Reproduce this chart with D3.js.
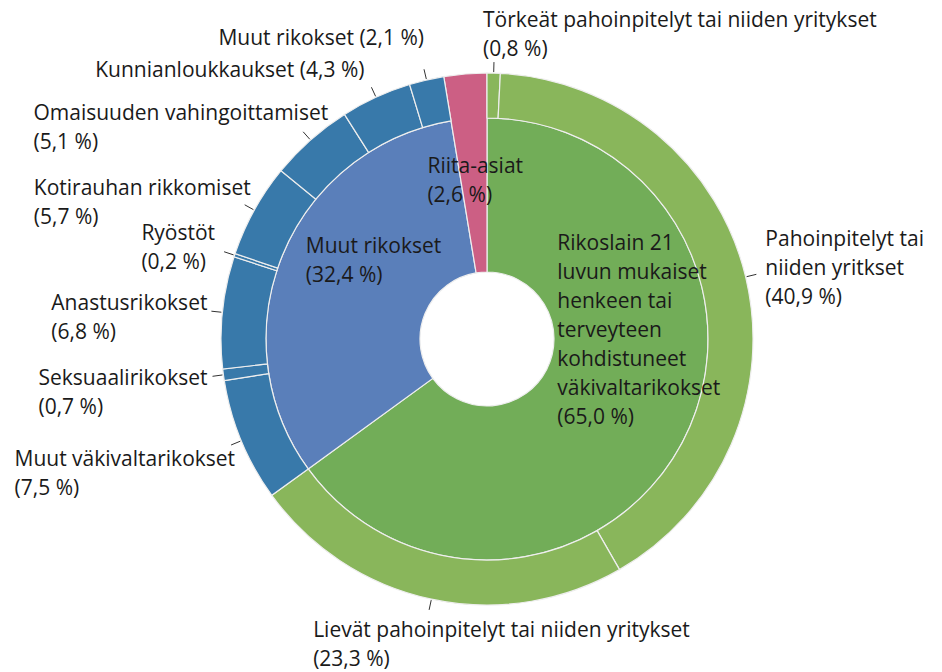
<!DOCTYPE html>
<html>
<head>
<meta charset="utf-8">
<script src="https://cdn.jsdelivr.net/npm/d3@7"></script>
<style>
  html, body { margin: 0; padding: 0; background: #fff; }
  svg { display: block; }
  text { font-family: "Open Sans", "Noto Sans", sans-serif; fill: #1a1a1a; }
</style>
</head>
<body>
<svg id="chart" width="942" height="672"></svg>
<script>
// ---- data ----
const categories = ["Rikoslain 21 luvun mukaiset henkeen tai terveyteen kohdistuneet väkivaltarikokset", "Muut rikokset", "Riita-asiat"];
const categoryValues = [65.0, 32.4, 2.6];
const categoryLabelLines = [
  ["Rikoslain 21", "luvun mukaiset", "henkeen tai", "terveyteen", "kohdistuneet", "väkivaltarikokset", "(65,0 %)"],
  ["Muut rikokset", "(32,4 %)"],
  ["Riita-asiat", "(2,6 %)"]
];
const subcategories = [
  "Törkeät pahoinpitelyt tai niiden yritykset",
  "Pahoinpitelyt tai niiden yritkset",
  "Lievät pahoinpitelyt tai niiden yritykset",
  "Muut väkivaltarikokset",
  "Seksuaalirikokset",
  "Anastusrikokset",
  "Ryöstöt",
  "Kotirauhan rikkomiset",
  "Omaisuuden vahingoittamiset",
  "Kunnianloukkaukset",
  "Muut rikokset"
];
const subParents = [0, 0, 0, 1, 1, 1, 1, 1, 1, 1, 1];
const subValues = [0.8, 40.9, 23.3, 7.5, 0.7, 6.8, 0.2, 5.7, 5.1, 4.3, 2.1];
const subLabelLines = [
  ["Törkeät pahoinpitelyt tai niiden yritykset", "(0,8 %)"],
  ["Pahoinpitelyt tai", "niiden yritkset", "(40,9 %)"],
  ["Lievät pahoinpitelyt tai niiden yritykset", "(23,3 %)"],
  ["Muut väkivaltarikokset", "(7,5 %)"],
  ["Seksuaalirikokset", "(0,7 %)"],
  ["Anastusrikokset", "(6,8 %)"],
  ["Ryöstöt", "(0,2 %)"],
  ["Kotirauhan rikkomiset", "(5,7 %)"],
  ["Omaisuuden vahingoittamiset", "(5,1 %)"],
  ["Kunnianloukkaukset (4,3 %)"],
  ["Muut rikokset (2,1 %)"]
];

// ---- layout / style ----
const cx = 487, cy = 339;
const rHole = 67, rMid = 221, rOuter = 266, rTick = 277;
const fontSize = 21, lineH = 29;
const innerColors = ["#72ad58", "#5a7fba", "#cc5f84"];
const outerColors = ["#89b65b", "#89b65b", "#89b65b", "#3879aa", "#3879aa", "#3879aa", "#3879aa", "#3879aa", "#3879aa", "#3879aa", "#3879aa"];
// label placement: ax = fraction of box width placed left of anchor, dx/dy offset of first baseline from tick end
const subLabelPlace = [
  {ax: 0, dx: -11, dy: -35},
  {ax: 0, dx: 9, dy: -28},
  {ax: 0, dx: -116, dy: 27},
  {ax: 1, dx: 4, dy: 21},
  {ax: 1, dx: -5, dy: 9},
  {ax: 1, dx: -4, dy: -1},
  {ax: 1, dx: -9, dy: -12},
  {ax: 1, dx: 6, dy: -10},
  {ax: 1, dx: 25, dy: -12},
  {ax: 1, dx: -7, dy: -10},
  {ax: 1, dx: 0, dy: -24}
];
const catLabelPlace = [
  {dx: -58, dy: -154},
  {dx: -48, dy: -31},
  {dx: -46, dy: 0}
];

// ---- hierarchy ----
const rootData = {
  name: "root",
  children: categories.map((c, i) => {
    const kids = subcategories.map((s, j) => ({name: s, value: subValues[j], idx: j, parent: subParents[j]}))
      .filter(k => k.parent === i);
    const node = {name: c, idx: i};
    if (kids.length) node.children = kids; else node.value = categoryValues[i];
    return node;
  })
};
const root = d3.hierarchy(rootData).sum(d => d.children ? 0 : d.value);
d3.partition().size([2 * Math.PI, 2])(root);

const radius = d3.scaleOrdinal().domain([1, 2]).range([[rHole, rMid], [rMid, rOuter]]);

const arc = d3.arc()
  .startAngle(d => d.x0)
  .endAngle(d => d.x1)
  .innerRadius(d => radius(d.depth)[0])
  .outerRadius(d => (d.depth === 1 && !d.children) ? rOuter : radius(d.depth)[1]);

const svg = d3.select("#chart");
const g = svg.append("g").attr("transform", `translate(${cx},${cy})`);

const nodes = root.descendants().filter(d => d.depth > 0);
g.selectAll("path.seg")
  .data(nodes)
  .join("path")
  .attr("class", "seg")
  .attr("d", arc)
  .attr("fill", d => d.depth === 1 ? innerColors[d.data.idx] : outerColors[d.data.idx])
  .attr("stroke", "#eeeeee")
  .attr("stroke-width", 1.2);

const polar = (a, r) => [r * Math.sin(a), -r * Math.cos(a)];

// outer labels
const leaves2 = nodes.filter(d => d.depth === 2);
leaves2.forEach(d => {
  const i = d.data.idx;
  const a = (d.x0 + d.x1) / 2;
  const p0 = polar(a, rOuter + 1), p1 = polar(a, rTick);
  g.append("line")
    .attr("x1", p0[0]).attr("y1", p0[1]).attr("x2", p1[0]).attr("y2", p1[1])
    .attr("stroke", "#333").attr("stroke-width", 1);
  const t = g.append("text").attr("font-size", fontSize);
  subLabelLines[i].forEach((ln, k) => {
    t.append("tspan").attr("dy", k === 0 ? 0 : lineH).attr("x", 0).text(ln);
  });
  let w = 0;
  t.selectAll("tspan").each(function () { w = Math.max(w, this.getComputedTextLength()); });
  const pl = subLabelPlace[i];
  const x = p1[0] + pl.dx - pl.ax * w;
  const y = p1[1] + pl.dy;
  t.attr("y", y).selectAll("tspan").attr("x", x);
  t.select("tspan").attr("y", y);
});

// inner labels
nodes.filter(d => d.depth === 1).forEach(d => {
  const i = d.data.idx;
  const c = arc.centroid(d);
  const pl = catLabelPlace[i];
  const t = g.append("text").attr("font-size", fontSize);
  categoryLabelLines[i].forEach((ln, k) => {
    t.append("tspan").attr("x", c[0] + pl.dx).attr("dy", k === 0 ? 0 : lineH).text(ln);
  });
  t.attr("y", c[1] + pl.dy);
});
</script>
</body>
</html>
